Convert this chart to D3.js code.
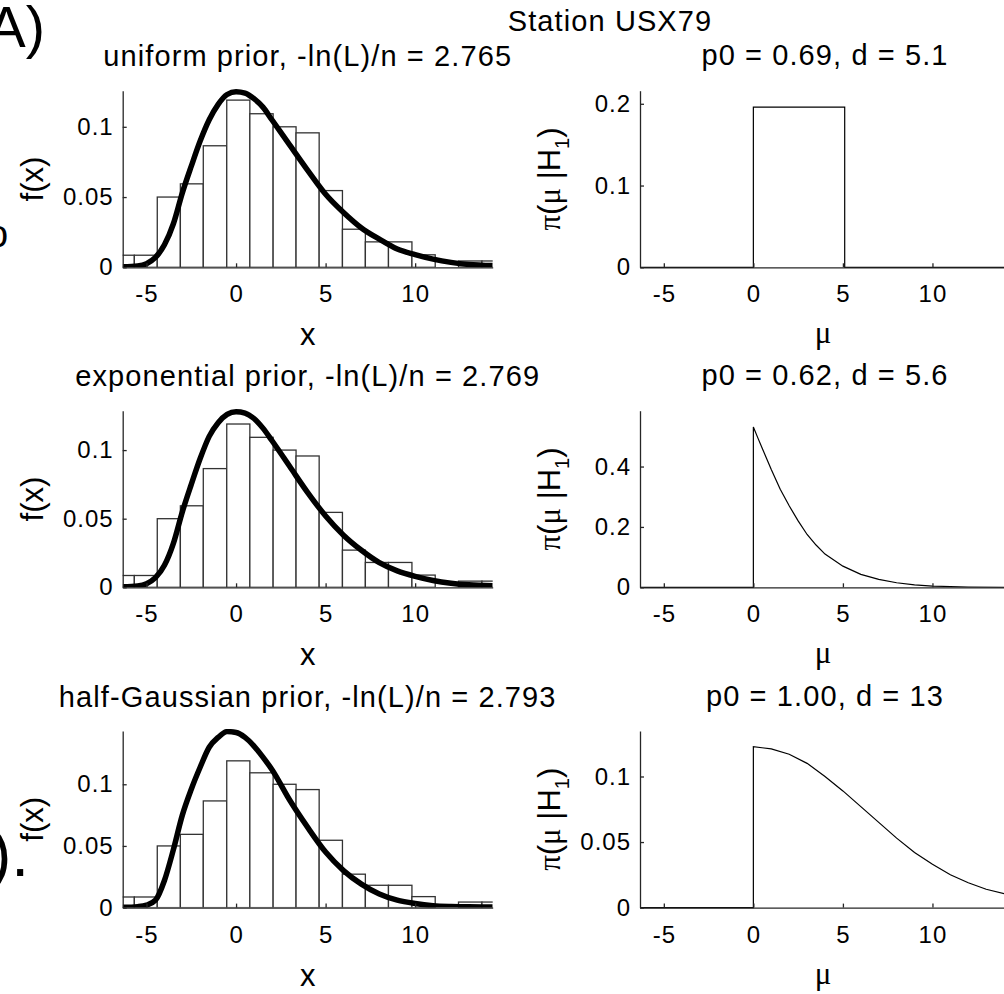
<!DOCTYPE html>
<html>
<head>
<meta charset="utf-8">
<script src="https://cdn.jsdelivr.net/npm/d3@7"></script>
<style>
  body { margin: 0; background: #fff; }
  svg { display: block; font-family: "Liberation Sans", Arial, Helvetica, sans-serif; }
  .tick text { font-size: 24px; letter-spacing: 1px; fill: #000; font-family: "Liberation Sans", Arial, sans-serif; }
  .title { font-size: 29px; letter-spacing: 1.1px; fill: #000; }
  .axis-label { font-size: 31px; fill: #000; }
  .greek { font-family: "Liberation Serif", "DejaVu Serif", serif; }
</style>
</head>
<body>
<div class="chart"></div>
<script>
// station USX79: data fit (left) and prior on mu (right), one row per prior

var svgWidth = 1004;
var svgHeight = 994;

var panelWidth = 370;
var panelHeight = 176.6;
var leftX = 122.7;
var rightX = 640;
var rowTops = [90.7, 410.7, 731];

// ---- data ----
var xTicks = [-5, 0, 5, 10];
var xDomain = [-6.33, 14.33];

var binEdges = [-6.97, -5.68, -4.40, -3.11, -1.83, -0.52, 0.77, 2.07, 3.35,
  4.64, 5.94, 7.22, 8.51, 9.82, 11.12, 12.42, 13.73, 15.02];
var binDensity = [0.0086, 0.0086, 0.050, 0.0594, 0.0865, 0.119, 0.1093, 0.100,
  0.0957, 0.0546, 0.0271, 0.0181, 0.0181, 0.0089, 0.0, 0.0045, 0.0045];

var fitTitles = ["uniform prior, -ln(L)/n = 2.765",
  "exponential prior, -ln(L)/n = 2.769",
  "half-Gaussian prior, -ln(L)/n = 2.793"];
var priorTitles = ["p0 = 0.69, d = 5.1", "p0 = 0.62, d = 5.6", "p0 = 1.00, d = 13"];

var fitYMax = [0.1257, 0.1287, 0.1432];
var fitYTicks = [0, 0.05, 0.1];
var priorYMax = [0.216, 0.585, 0.1347];
var priorYTicks = [[0, 0.1, 0.2], [0, 0.2, 0.4], [0, 0.05, 0.1]];

// fitted densities f(x)
var uniformFitX = [-6.33, -5.5, -5, -4.5, -4, -3.5, -3, -2.5, -2, -1.5, -1, -0.5, 0, 0.5, 1, 1.5, 2, 3, 4, 5, 6, 7, 8, 9, 10, 11, 12, 13, 14.33];
var uniformFitY = [0.0004, 0.001, 0.0026, 0.007, 0.016, 0.031, 0.053, 0.072, 0.090, 0.105, 0.116, 0.123, 0.125, 0.124, 0.120, 0.114, 0.105, 0.087, 0.069, 0.052, 0.039, 0.028, 0.020, 0.013, 0.009, 0.0058, 0.0035, 0.002, 0.0012];

var expFitX = [-6.33, -5.5, -5, -4.5, -4, -3.5, -3, -2.5, -2, -1.5, -1, -0.5, 0, 0.5, 1, 1.5, 2, 3, 4, 5, 6, 7, 8, 9, 10, 11, 12, 13, 14.33];
var expFitY = [0.0004, 0.001, 0.0026, 0.007, 0.016, 0.032, 0.055, 0.075, 0.094, 0.110, 0.120, 0.126, 0.128, 0.127, 0.123, 0.116, 0.107, 0.088, 0.069, 0.052, 0.038, 0.027, 0.018, 0.012, 0.008, 0.005, 0.003, 0.0018, 0.0012];

var halfGaussFitX = [-6.33, -5.5, -5, -4.5, -4, -3.5, -3, -2.5, -2, -1.5, -1, -0.5, 0, 0.5, 1, 1.5, 2, 3, 4, 5, 6, 7, 8, 9, 10, 11, 12, 13, 14.33];
var halfGaussFitY = [0.0002, 0.0008, 0.002, 0.006, 0.022, 0.047, 0.075, 0.096, 0.114, 0.130, 0.138, 0.1427, 0.142, 0.138, 0.131, 0.122, 0.112, 0.087, 0.065, 0.045, 0.030, 0.019, 0.011, 0.0060, 0.0033, 0.0016, 0.0009, 0.0006, 0.0005];

// priors pi(mu | H1)
var uniformPriorX = [-6.33, 0, 0, 5.1, 5.1, 14.33];
var uniformPriorY = [0, 0, 0.196, 0.196, 0, 0];

var expPriorX = [-6.33, 0, 0, 0.25, 0.5, 0.75, 1, 1.5, 2, 2.5, 3, 3.5, 4, 5, 6, 7, 8, 9, 10, 12, 14.33];
var expPriorY = [0, 0, 0.531, 0.495, 0.46, 0.425, 0.39, 0.325, 0.27, 0.22, 0.175, 0.14, 0.11, 0.07, 0.043, 0.026, 0.015, 0.008, 0.004, 0.001, 0];

var halfGaussPriorX = [-6.33, 0, 0, 1, 2, 3, 4, 5, 6, 7, 8, 9, 10, 11, 12, 13, 14.33];
var halfGaussPriorY = [0, 0, 0.1228, 0.121, 0.117, 0.110, 0.100, 0.089, 0.077, 0.065, 0.053, 0.042, 0.033, 0.025, 0.019, 0.014, 0.0095];

var fitCurves = [
  uniformFitX.map((x, i) => [x, uniformFitY[i]]),
  expFitX.map((x, i) => [x, expFitY[i]]),
  halfGaussFitX.map((x, i) => [x, halfGaussFitY[i]])
];
var priorCurves = [
  uniformPriorX.map((x, i) => [x, uniformPriorY[i]]),
  expPriorX.map((x, i) => [x, expPriorY[i]]),
  halfGaussPriorX.map((x, i) => [x, halfGaussPriorY[i]])
];

var bins = binDensity.map((d, i) => ({x0: binEdges[i], x1: binEdges[i + 1], y: d}));

var svg = d3
  .select(".chart")
  .append("svg")
  .attr("width", svgWidth)
  .attr("height", svgHeight);

var xScale = d3.scaleLinear().domain(xDomain).range([0, panelWidth]);

// draws axes for one panel, MATLAB style: box off, ticks pointing in
function drawAxes(g, yScale, yTicks) {
  var bottom = g.append("g")
    .attr("transform", `translate(0, ${panelHeight})`)
    .call(d3.axisBottom(xScale)
      .tickValues(xTicks)
      .tickSizeInner(-4)
      .tickSizeOuter(0)
      .tickPadding(18)
      .tickFormat(d => String(d)));

  var left = g.append("g")
    .call(d3.axisLeft(yScale)
      .tickValues(yTicks)
      .tickSizeInner(-4)
      .tickSizeOuter(0)
      .tickPadding(9)
      .tickFormat(d => String(d)));

  [bottom, left].forEach(function(a) {
    a.attr("font-size", null).attr("font-family", null);
    a.select(".domain").attr("stroke", "#262626").attr("stroke-width", 1.3);
    a.selectAll(".tick line").attr("stroke", "#262626").attr("stroke-width", 1.3);
  });
}

rowTops.forEach(function(top, row) {

  // ---------- left: histogram + fitted density ----------
  var yFit = d3.scaleLinear().domain([0, fitYMax[row]]).range([panelHeight, 0]);

  var fitGroup = svg.append("g")
    .attr("transform", `translate(${leftX}, ${top})`);

  fitGroup.append("clipPath")
    .attr("id", "clip-fit-" + row)
    .append("rect")
    .attr("width", panelWidth)
    .attr("height", panelHeight + 2)
    .attr("y", -2);

  var plotArea = fitGroup.append("g").attr("clip-path", `url(#clip-fit-${row})`);

  plotArea.selectAll("rect.bar")
    .data(bins)
    .enter()
    .append("rect")
    .attr("class", "bar")
    .attr("x", d => xScale(d.x0))
    .attr("width", d => xScale(d.x1) - xScale(d.x0))
    .attr("y", d => yFit(d.y))
    .attr("height", d => panelHeight - yFit(d.y))
    .attr("fill", "#fff")
    .attr("stroke", "#333")
    .attr("stroke-width", 1.3);

  plotArea.append("path")
    .datum(fitCurves[row])
    .attr("fill", "none")
    .attr("stroke", "#000")
    .attr("stroke-width", 5.5)
    .attr("d", d3.line()
      .x(d => xScale(d[0]))
      .y(d => yFit(d[1]))
      .curve(d3.curveMonotoneX));

  drawAxes(fitGroup, yFit, fitYTicks);

  fitGroup.append("text")
    .attr("class", "title")
    .attr("x", panelWidth / 2)
    .attr("y", -24.5)
    .attr("text-anchor", "middle")
    .text(fitTitles[row]);

  fitGroup.append("text")
    .attr("class", "axis-label")
    .attr("x", panelWidth / 2)
    .attr("y", panelHeight + 78)
    .attr("text-anchor", "middle")
    .text("x");

  fitGroup.append("text")
    .attr("class", "axis-label")
    .attr("transform", `translate(${43 - leftX}, ${panelHeight / 2}) rotate(-90)`)
    .attr("text-anchor", "middle")
    .text("f(x)");

  // ---------- right: prior on mu ----------
  var yPrior = d3.scaleLinear().domain([0, priorYMax[row]]).range([panelHeight, 0]);

  var priorGroup = svg.append("g")
    .attr("transform", `translate(${rightX}, ${top})`);

  priorGroup.append("path")
    .datum(priorCurves[row])
    .attr("fill", "none")
    .attr("stroke", "#000")
    .attr("stroke-width", 1.2)
    .attr("d", d3.line()
      .x(d => xScale(d[0]))
      .y(d => yPrior(d[1])));

  drawAxes(priorGroup, yPrior, priorYTicks[row]);

  priorGroup.append("text")
    .attr("class", "title")
    .attr("x", panelWidth / 2)
    .attr("y", -25.5)
    .attr("text-anchor", "middle")
    .text(priorTitles[row]);

  priorGroup.append("text")
    .attr("class", "axis-label greek")
    .attr("x", panelWidth / 2 - 2)
    .attr("y", panelHeight + 76)
    .attr("text-anchor", "middle")
    .text("\u03bc");

  var piLabel = priorGroup.append("text")
    .attr("class", "axis-label")
    .attr("transform", `translate(${560 - rightX}, ${panelHeight / 2}) rotate(-90)`)
    .attr("text-anchor", "middle");
  piLabel.append("tspan").attr("class", "greek").text("\u03c0");
  piLabel.append("tspan").text("(");
  piLabel.append("tspan").attr("class", "greek").text("\u03bc");
  piLabel.append("tspan").text(" |H");
  piLabel.append("tspan").attr("dy", 9).attr("font-size", 20).text("1");
  piLabel.append("tspan").attr("dy", -9).text(")");
});

// overall heading
svg.append("text")
  .attr("class", "title")
  .attr("x", 610)
  .attr("y", 31)
  .attr("text-anchor", "middle")
  .attr("letter-spacing", 1.3)
  .text("Station USX79");

// pieces of neighbouring panel text cut off by the crop, as in the reference
svg.append("text")
  .attr("x", -13)
  .attr("y", 47)
  .attr("font-size", 58)
  .text("A)");

svg.append("text")
  .attr("x", -13)
  .attr("y", 247)
  .attr("font-size", 38)
  .text("o");

svg.append("text")
  .attr("x", -10)
  .attr("y", 876)
  .attr("font-size", 64)
  .text(").");
</script>
</body>
</html>
